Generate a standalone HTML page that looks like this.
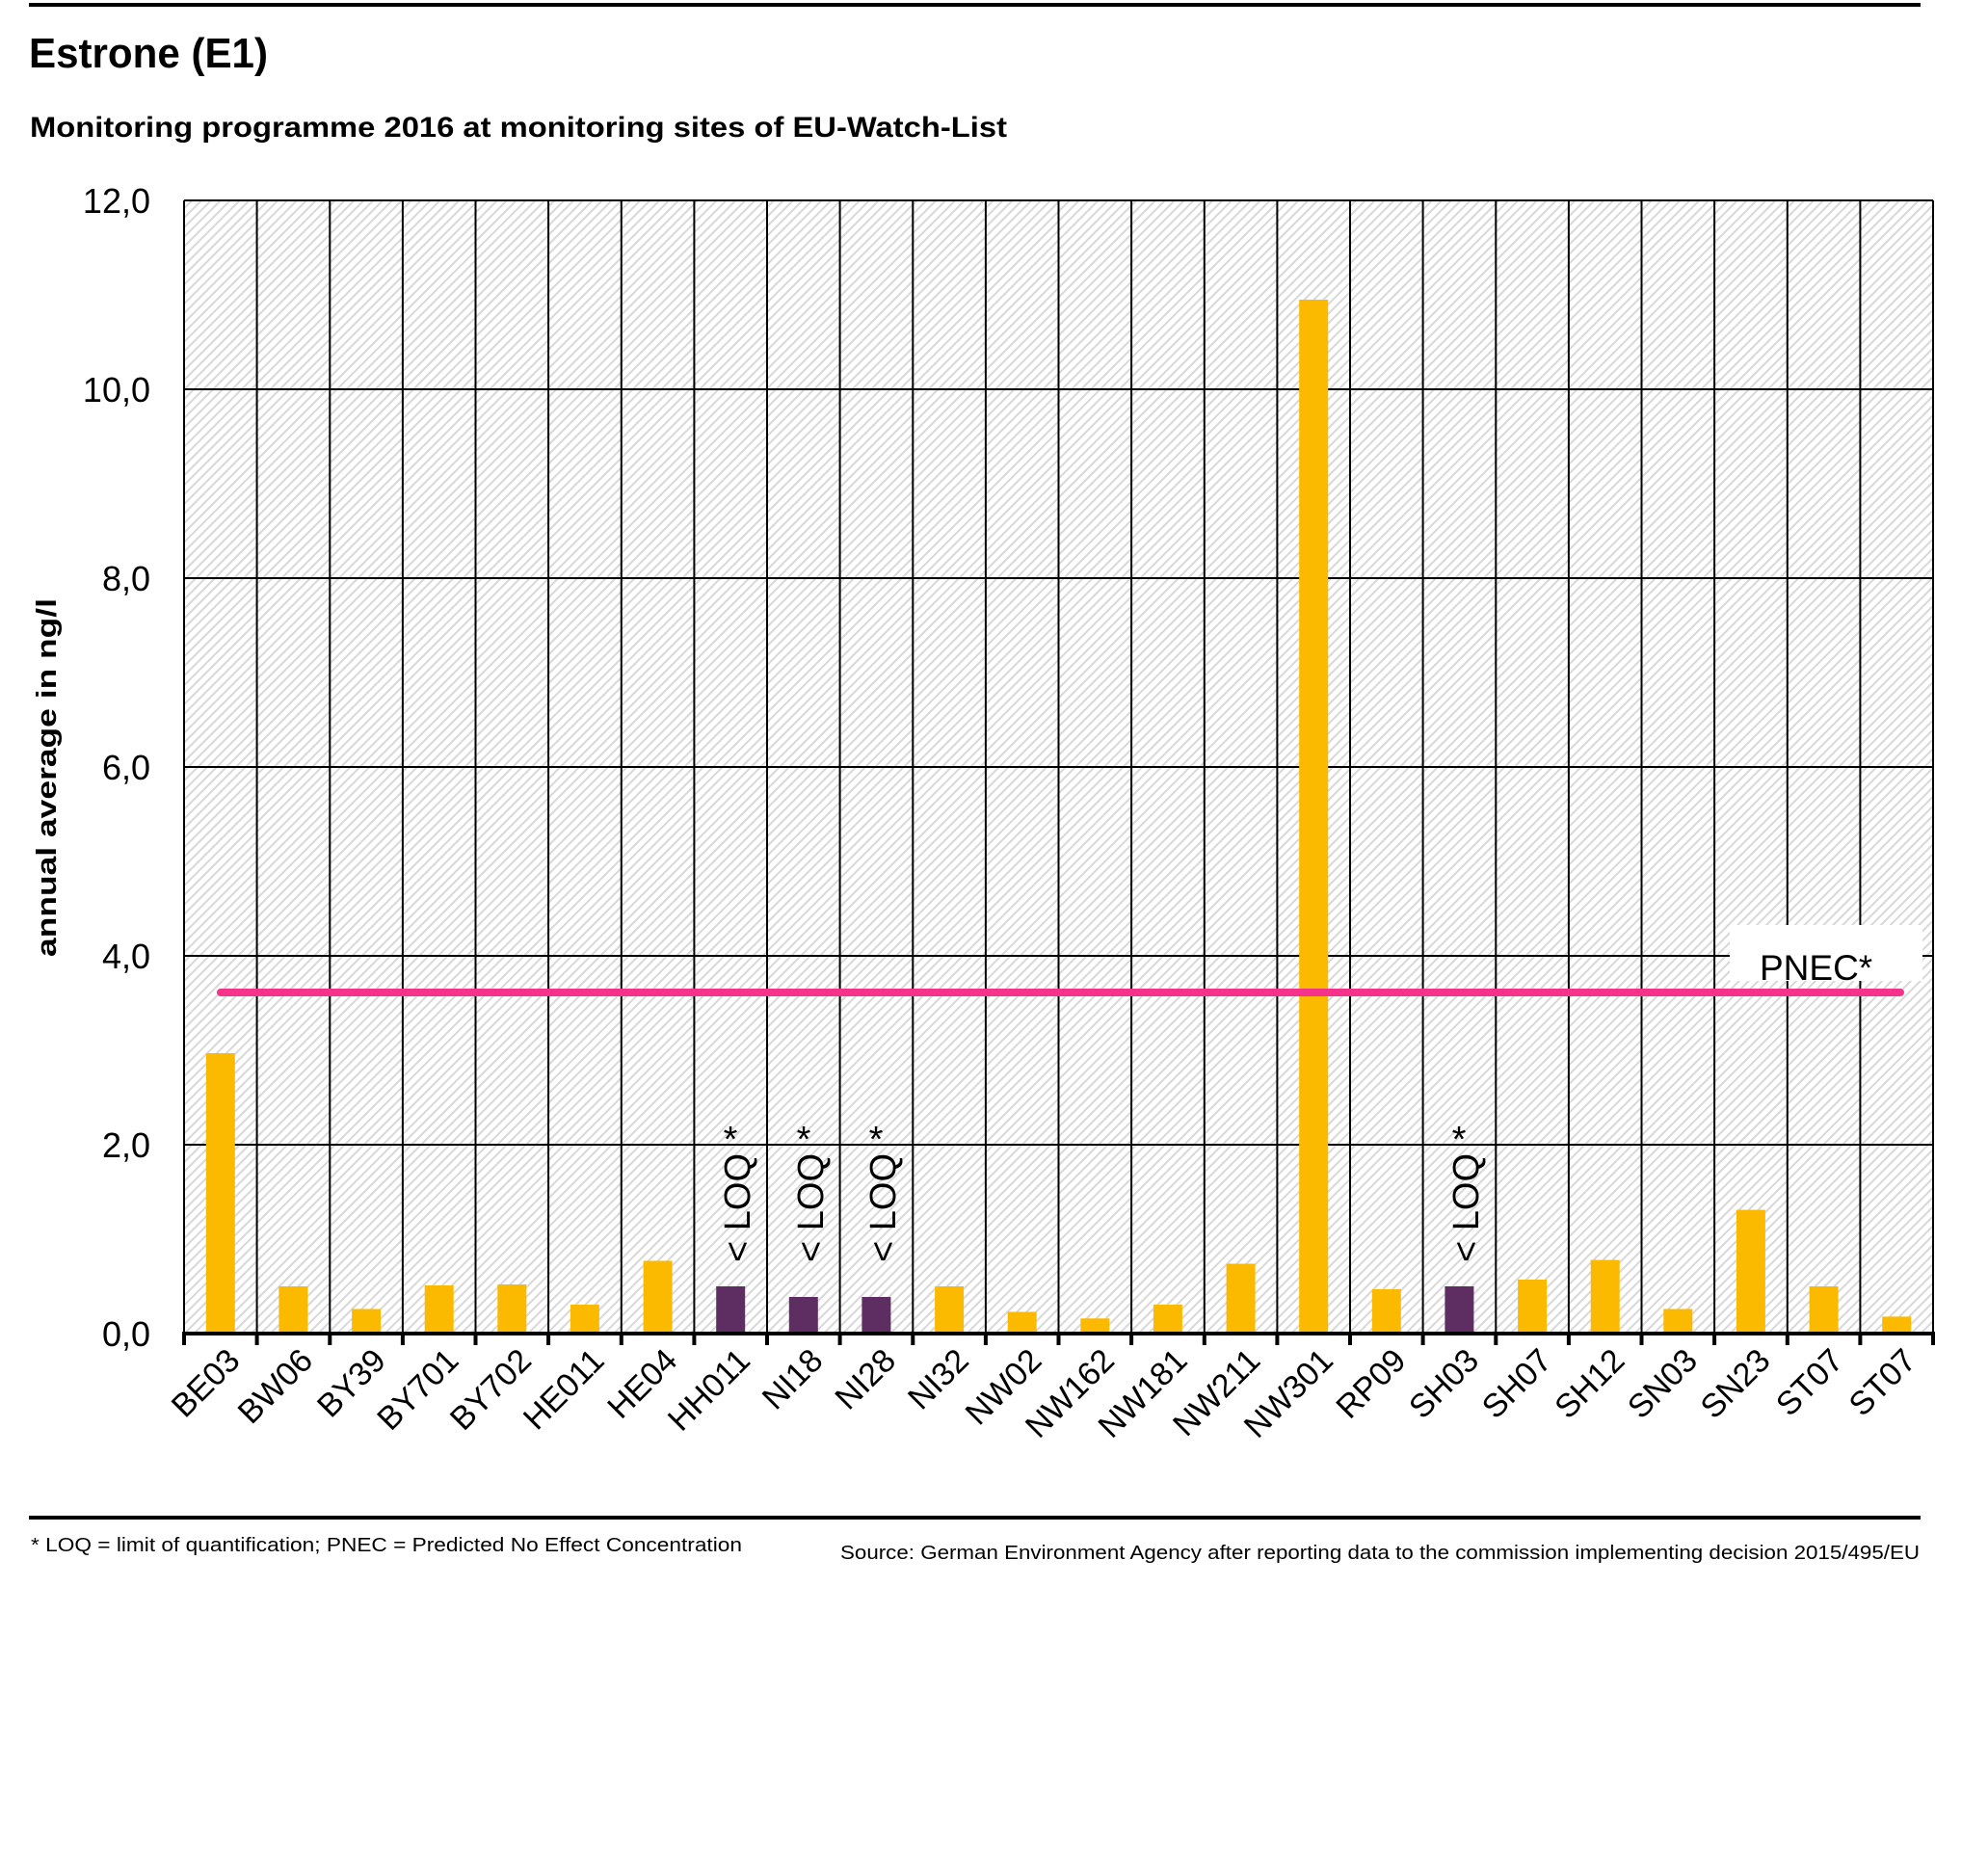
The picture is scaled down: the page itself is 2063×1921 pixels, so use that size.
<!DOCTYPE html>
<html><head><meta charset="utf-8"><style>html,body{margin:0;padding:0;background:#fff}svg{display:block}</style></head>
<body>
<svg width="2063" height="1921" viewBox="0 0 2063 1921" xmlns="http://www.w3.org/2000/svg" font-family="Liberation Sans, sans-serif">
<defs>
<pattern id="h" patternUnits="userSpaceOnUse" width="7" height="7" patternTransform="rotate(45)">
<rect width="7" height="7" fill="#fff"/><rect x="0" y="0" width="2" height="7" fill="#d8d8d8"/>
</pattern>
</defs>
<rect x="30" y="3" width="1963" height="4" fill="#000"/>
<text x="30" y="70" font-size="44" font-weight="bold" textLength="248" lengthAdjust="spacingAndGlyphs">Estrone (E1)</text>
<text x="31" y="142" font-size="30" font-weight="bold" textLength="1014" lengthAdjust="spacingAndGlyphs">Monitoring programme 2016 at monitoring sites of EU-Watch-List</text>
<rect x="191" y="208" width="1815" height="1176" fill="url(#h)"/>
<g stroke="#000" stroke-width="2">
<line x1="191" y1="208" x2="2006" y2="208"/>
<line x1="191" y1="404" x2="2006" y2="404"/>
<line x1="191" y1="600" x2="2006" y2="600"/>
<line x1="191" y1="796" x2="2006" y2="796"/>
<line x1="191" y1="992" x2="2006" y2="992"/>
<line x1="191" y1="1188" x2="2006" y2="1188"/>
<path d="M191 208V1384M266.6 208V1384M342.3 208V1384M417.9 208V1384M493.5 208V1384M569.1 208V1384M644.8 208V1384M720.4 208V1384M796 208V1384M871.6 208V1384M947.3 208V1384M1022.9 208V1384M1098.5 208V1384M1174.1 208V1384M1249.8 208V1384M1325.4 208V1384M1401 208V1384M1476.6 208V1384M1552.3 208V1384M1627.9 208V1384M1703.5 208V1384M1779.1 208V1384M1854.8 208V1384M1930.4 208V1384M2006 208V1384"/>
</g>
<g fill="#FBBA00">
<rect x="213.8" y="1093" width="30" height="291"/>
<rect x="289.4" y="1335" width="30" height="49"/>
<rect x="365.1" y="1358.5" width="30" height="25.5"/>
<rect x="440.7" y="1334" width="30" height="50"/>
<rect x="516.3" y="1333" width="30" height="51"/>
<rect x="591.9" y="1354" width="30" height="30"/>
<rect x="667.6" y="1308.5" width="30" height="75.5"/>
<rect x="970.1" y="1335" width="30" height="49"/>
<rect x="1045.7" y="1361.5" width="30" height="22.5"/>
<rect x="1121.3" y="1368.3" width="30" height="15.7"/>
<rect x="1196.9" y="1354" width="30" height="30"/>
<rect x="1272.6" y="1311.5" width="30" height="72.5"/>
<rect x="1348.2" y="311" width="30" height="1073"/>
<rect x="1423.8" y="1338" width="30" height="46"/>
<rect x="1575.1" y="1328" width="30" height="56"/>
<rect x="1650.7" y="1307.6" width="30" height="76.4"/>
<rect x="1726.3" y="1358.5" width="30" height="25.5"/>
<rect x="1801.9" y="1255.6" width="30" height="128.4"/>
<rect x="1877.6" y="1335" width="30" height="49"/>
<rect x="1953.2" y="1366.4" width="30" height="17.6"/>
</g>
<g fill="#5E2D62">
<rect x="743.2" y="1335" width="30" height="49"/>
<rect x="818.8" y="1346" width="30" height="38"/>
<rect x="894.4" y="1346" width="30" height="38"/>
<rect x="1499.4" y="1335" width="30" height="49"/>
</g>
<g stroke="#000" stroke-width="4">
<path d="M191 1384V1396M266.6 1384V1396M342.3 1384V1396M417.9 1384V1396M493.5 1384V1396M569.1 1384V1396M644.8 1384V1396M720.4 1384V1396M796 1384V1396M871.6 1384V1396M947.3 1384V1396M1022.9 1384V1396M1098.5 1384V1396M1174.1 1384V1396M1249.8 1384V1396M1325.4 1384V1396M1401 1384V1396M1476.6 1384V1396M1552.3 1384V1396M1627.9 1384V1396M1703.5 1384V1396M1779.1 1384V1396M1854.8 1384V1396M1930.4 1384V1396M2006 1384V1396"/>
<line x1="189" y1="1384" x2="2008" y2="1384"/>
</g>
<g font-size="38">
<text transform="translate(778,1310) rotate(-90)">&lt; LOQ</text><text x="758" y="1195" text-anchor="middle">*</text>
<text transform="translate(854,1310) rotate(-90)">&lt; LOQ</text><text x="834" y="1195" text-anchor="middle">*</text>
<text transform="translate(929,1310) rotate(-90)">&lt; LOQ</text><text x="909" y="1195" text-anchor="middle">*</text>
<text transform="translate(1534,1310) rotate(-90)">&lt; LOQ</text><text x="1514" y="1195" text-anchor="middle">*</text>
</g>
<g font-size="34" text-anchor="end">
<text transform="translate(250.8,1414) rotate(-45)">BE03</text>
<text transform="translate(326.4,1414) rotate(-45)">BW06</text>
<text transform="translate(402.1,1414) rotate(-45)">BY39</text>
<text transform="translate(477.7,1414) rotate(-45)">BY701</text>
<text transform="translate(553.3,1414) rotate(-45)">BY702</text>
<text transform="translate(628.9,1414) rotate(-45)">HE011</text>
<text transform="translate(704.6,1414) rotate(-45)">HE04</text>
<text transform="translate(780.2,1414) rotate(-45)">HH011</text>
<text transform="translate(855.8,1414) rotate(-45)">NI18</text>
<text transform="translate(931.4,1414) rotate(-45)">NI28</text>
<text transform="translate(1007.1,1414) rotate(-45)">NI32</text>
<text transform="translate(1082.7,1414) rotate(-45)">NW02</text>
<text transform="translate(1158.3,1414) rotate(-45)">NW162</text>
<text transform="translate(1233.9,1414) rotate(-45)">NW181</text>
<text transform="translate(1309.6,1414) rotate(-45)">NW211</text>
<text transform="translate(1385.2,1414) rotate(-45)">NW301</text>
<text transform="translate(1460.8,1414) rotate(-45)">RP09</text>
<text transform="translate(1536.4,1414) rotate(-45)">SH03</text>
<text transform="translate(1612.1,1414) rotate(-45)">SH07</text>
<text transform="translate(1687.7,1414) rotate(-45)">SH12</text>
<text transform="translate(1763.3,1414) rotate(-45)">SN03</text>
<text transform="translate(1838.9,1414) rotate(-45)">SN23</text>
<text transform="translate(1914.6,1414) rotate(-45)">ST07</text>
<text transform="translate(1990.2,1414) rotate(-45)">ST07</text>
</g>
<g font-size="36" text-anchor="end">
<text x="156" y="221">12,0</text><text x="156" y="417">10,0</text><text x="156" y="613">8,0</text>
<text x="156" y="809">6,0</text><text x="156" y="1005">4,0</text><text x="156" y="1201">2,0</text><text x="156" y="1397">0,0</text>
</g>
<text transform="translate(58,807) rotate(-90)" text-anchor="middle" font-size="29" font-weight="bold" textLength="372" lengthAdjust="spacingAndGlyphs">annual average in ng/l</text>
<rect x="1795" y="960" width="200" height="58" fill="#fff"/>
<text x="1826" y="1017" font-size="37">PNEC*</text>
<line x1="229" y1="1030" x2="1972" y2="1030" stroke="#F5338A" stroke-width="8" stroke-linecap="round"/>
<rect x="30" y="1573" width="1963" height="4" fill="#000"/>
<text x="32" y="1610" font-size="20" textLength="738" lengthAdjust="spacingAndGlyphs">* LOQ = limit of quantification; PNEC = Predicted No Effect Concentration</text>
<text x="1992" y="1618" font-size="20" text-anchor="end" textLength="1120" lengthAdjust="spacingAndGlyphs">Source: German Environment Agency after reporting data to the commission implementing decision 2015/495/EU</text>
</svg>
</body></html>
